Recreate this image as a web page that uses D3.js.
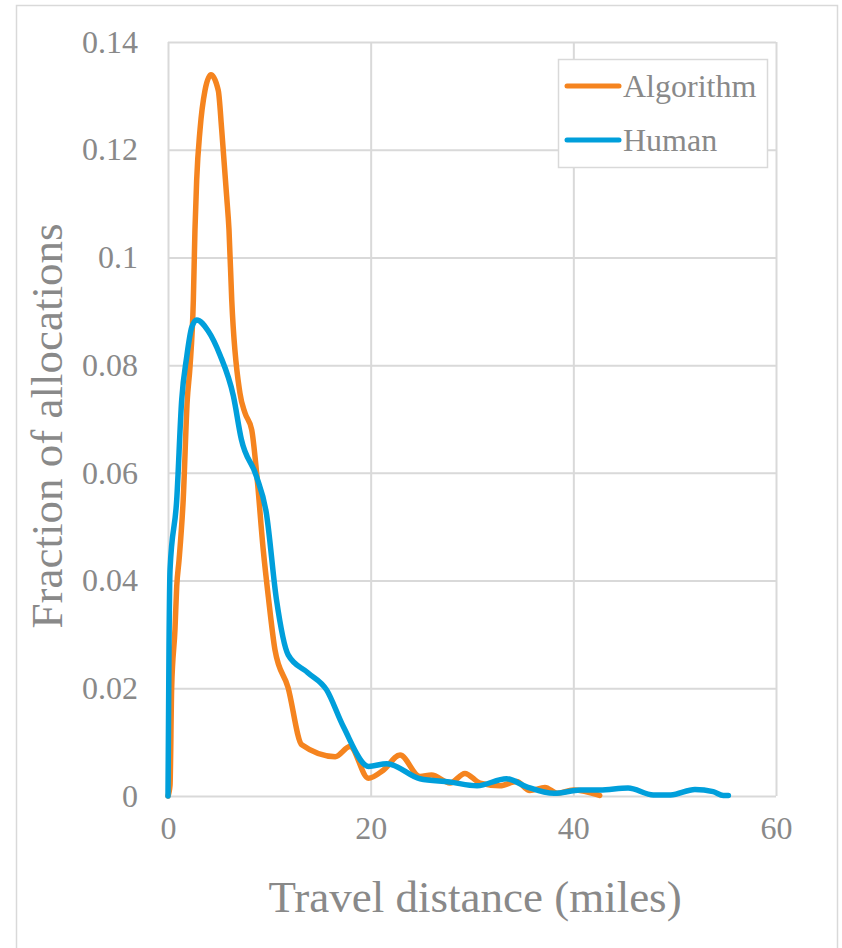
<!DOCTYPE html>
<html>
<head>
<meta charset="utf-8">
<script src="https://cdn.jsdelivr.net/npm/d3@7"></script>
<style>
  body { margin: 0; background: #fff; }
  text { font-family: "Liberation Serif", "DejaVu Serif", serif; fill: #898989; }
</style>
</head>
<body>
<div id="chart"></div>
<script>
// values
const seriesNames = ["Algorithm", "Human"];
const seriesColors = ["#f5841f", "#009fdb"];
const xTicks = [0, 20, 40, 60];
const yTicks = [0, 0.02, 0.04, 0.06, 0.08, 0.1, 0.12, 0.14];

const algorithmX = [0, 0.2, 0.36, 0.69, 0.86, 1.09, 1.5, 1.9, 2.17, 2.5, 2.66, 2.83, 3.16, 3.65, 4.24,
  4.96, 5.3, 5.79, 6.02, 6.29, 7.1, 7.6, 8.26, 8.75, 9.4, 9.9, 10.56, 11.84, 13.2, 16.5, 17.96,
  19.77, 21.25, 22.9, 24.87, 26.0, 27.83, 29.3, 30.8, 32.76, 34.4, 35.7, 37.2, 38.4, 40.0, 42.6];
const algorithmY = [0, 0.002, 0.02, 0.031, 0.0389, 0.0438, 0.055, 0.0735, 0.0797, 0.092, 0.1051, 0.1144, 0.1237, 0.131, 0.1339,
  0.131, 0.1237, 0.1113, 0.1051, 0.0921, 0.0748, 0.0711, 0.068, 0.0599, 0.0457, 0.037, 0.0271, 0.0202, 0.0095, 0.0073, 0.0092,
  0.0033, 0.0048, 0.0076, 0.0036, 0.0039, 0.0024, 0.0042, 0.0024, 0.0019, 0.0027, 0.001, 0.0016, 0.0005, 0.0011, 0.0001];

const humanX = [0, 0.1, 0.2, 0.86, 1.35, 1.85, 2.34, 2.83, 3.95, 5.13, 6.45, 7.24, 8.72, 9.7, 10.7,
  11.86, 13.8, 15.65, 17.3, 19.8, 21.6, 24.87, 27.8, 30.5, 33.4, 35.4, 38.1, 40.7, 42.6, 45.4, 47.9, 49.6,
  52.0, 53.8, 54.8, 55.3];
const humanY = [0, 0.028, 0.042, 0.055, 0.0735, 0.0816, 0.087, 0.0884, 0.0864, 0.0819, 0.0743, 0.0662, 0.0594, 0.0526, 0.0365,
  0.0262, 0.0229, 0.0197, 0.0129, 0.0055, 0.006, 0.0032, 0.0026, 0.0019, 0.0032, 0.0017, 0.0005, 0.0011, 0.0011, 0.0015, 0.0002, 0.0002,
  0.0012, 0.0008, 0.0001, 0.0001];

const width = 842;
const height = 948;

const series = [
  {name: seriesNames[0], color: seriesColors[0], points: algorithmX.map((x, i) => [x, algorithmY[i]])},
  {name: seriesNames[1], color: seriesColors[1], points: humanX.map((x, i) => [x, humanY[i]])}
];

const svg = d3.select("#chart").append("svg")
    .attr("width", width)
    .attr("height", height);

// outer chart border
svg.append("rect")
    .attr("x", 16.5).attr("y", 5.5)
    .attr("width", 821).attr("height", 960)
    .attr("fill", "none")
    .attr("stroke", "#d9d9d9")
    .attr("stroke-width", 1.5);

const x = d3.scaleLinear().domain([0, 60]).range([168, 776]);
const y = d3.scaleLinear().domain([0, 0.14]).range([796, 42]);

// gridlines + tick labels
const yAxis = svg.append("g")
    .attr("transform", `translate(${x(0)},0)`)
    .call(d3.axisLeft(y).tickValues(yTicks).tickSize(-(x(60) - x(0))).tickPadding(30)
      .tickFormat(d => d === 0 ? "0" : d3.format("")(+d.toFixed(2))));
yAxis.select(".domain").remove();
yAxis.selectAll("line").attr("stroke", "#d9d9d9").attr("stroke-width", 2);
yAxis.selectAll("text").attr("font-size", 32).attr("fill", "#898989")
    .attr("font-family", "Liberation Serif, serif");

const xAxis = svg.append("g")
    .attr("transform", `translate(0,${y(0)})`)
    .call(d3.axisBottom(x).tickValues(xTicks).tickSize(-(y(0) - y(0.14))).tickPadding(20));
xAxis.select(".domain").remove();
xAxis.selectAll("line").attr("stroke", "#d9d9d9").attr("stroke-width", 2);
xAxis.selectAll("text").attr("font-size", 32).attr("fill", "#898989")
    .attr("font-family", "Liberation Serif, serif");

// axis titles
svg.append("text")
    .attr("x", (x(0) + x(60)) / 2 + 3)
    .attr("y", 912)
    .attr("text-anchor", "middle")
    .attr("font-size", 45)
    .text("Travel distance (miles)");

svg.append("text")
    .attr("transform", `translate(62,${(y(0) + y(0.14)) / 2 + 7}) rotate(-90)`)
    .attr("text-anchor", "middle")
    .attr("font-size", 45)
    .text("Fraction of allocations");

// lines
const line = d3.line()
    .x(d => x(d[0]))
    .y(d => y(d[1]))
    .curve(d3.curveMonotoneX);

svg.append("g")
  .selectAll("path")
  .data(series)
  .join("path")
    .attr("d", d => line(d.points))
    .attr("fill", "none")
    .attr("stroke", d => d.color)
    .attr("stroke-width", 5.5)
    .attr("stroke-linejoin", "round")
    .attr("stroke-linecap", "round");

// legend
const legend = svg.append("g");
legend.append("rect")
    .attr("x", 558.5).attr("y", 59.5)
    .attr("width", 209).attr("height", 108)
    .attr("fill", "#fff")
    .attr("stroke", "#d9d9d9")
    .attr("stroke-width", 1.5);

const item = legend.selectAll("g")
  .data(series)
  .join("g")
    .attr("transform", (d, i) => `translate(0,${86 + i * 54})`);
item.append("line")
    .attr("x1", 567).attr("x2", 619)
    .attr("stroke", d => d.color)
    .attr("stroke-width", 5)
    .attr("stroke-linecap", "round");
item.append("text")
    .attr("x", 623)
    .attr("y", 11)
    .attr("font-size", 32)
    .text(d => d.name);
</script>
</body>
</html>
